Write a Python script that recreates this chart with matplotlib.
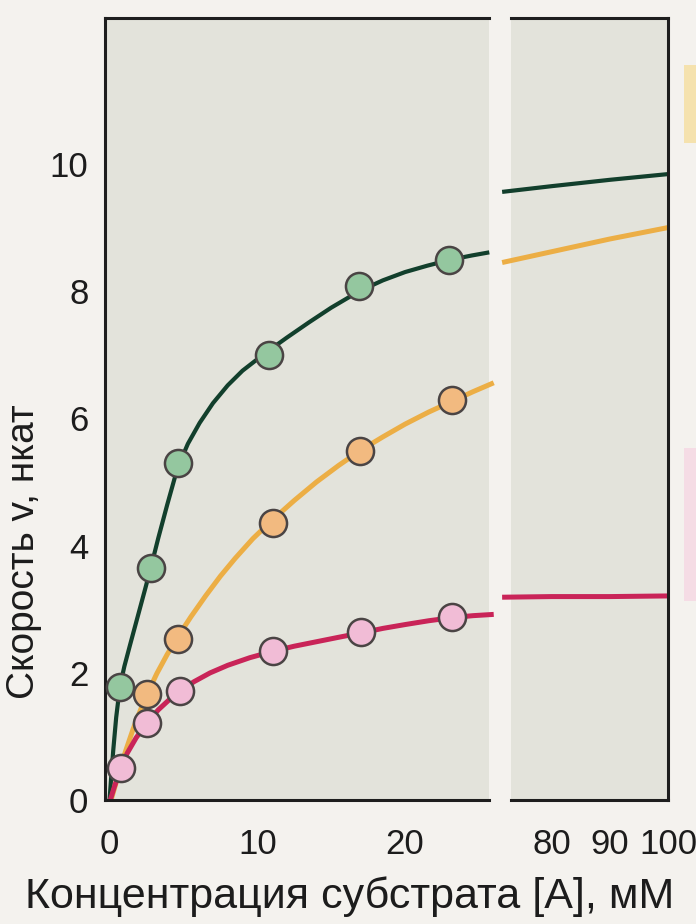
import matplotlib.pyplot as plt
from matplotlib.patches import Rectangle

plt.rcParams['font.family'] = ['Liberation Sans', 'DejaVu Sans']

# измеренные точки (мМ, нкат)
green_x = [0.7, 2.8, 4.6, 10.8, 16.9, 23.0]
green_y = [1.78, 3.65, 5.30, 6.99, 8.08, 8.49]
orange_x = [2.55, 4.6, 11.05, 16.95, 23.15]
orange_y = [1.67, 2.53, 4.36, 5.49, 6.29]
pink_x = [0.75, 2.55, 4.75, 11.05, 17.05, 23.2]
pink_y = [0.50, 1.22, 1.71, 2.34, 2.65, 2.88]

# кривые (левая часть оси)
green_cx = [0, 0.1, 0.25, 0.45, 0.7, 1.0, 1.4, 1.9, 2.4, 2.8, 3.3, 3.9, 4.6, 5.3, 6.1, 7.0, 8.0, 9.0,
            10.0, 10.8, 12, 13.5, 15, 16.9, 18.5, 20, 21.5, 23, 24.5, 25.7]
green_cy = [0, 0.32, 0.78, 1.3, 1.78, 2.1, 2.45, 2.88, 3.31, 3.66, 4.12, 4.64, 5.22, 5.6, 5.93, 6.24, 6.52, 6.75,
            6.93, 7.07, 7.27, 7.51, 7.74, 8.0, 8.17, 8.3, 8.4, 8.49, 8.56, 8.61]
orange_cx = [0.1, 0.6, 1.1, 1.6, 2.1, 2.55, 3.2, 3.9, 4.6, 5.5, 6.5, 7.5, 8.5, 9.7, 11, 12.5, 14, 15.5,
             17, 18.5, 20, 21.6, 23.2, 24.6, 26]
orange_cy = [0, 0.40, 0.78, 1.12, 1.42, 1.67, 1.99, 2.29, 2.56, 2.88, 3.21, 3.52, 3.8, 4.11, 4.40, 4.71, 5.0, 5.26,
             5.5, 5.71, 5.91, 6.1, 6.27, 6.42, 6.56]
pink_cx = [0.05, 0.3, 0.75, 1.2, 1.8, 2.55, 3.3, 4.0, 4.75, 5.7, 6.8, 8, 9.5, 11.05, 12.5, 14, 15.5, 17.05,
           18.5, 20, 21.6, 23.2, 24.6, 26]
pink_cy = [0, 0.19, 0.5, 0.74, 0.98, 1.22, 1.42, 1.57, 1.71, 1.86, 2.0, 2.12, 2.24, 2.34, 2.42, 2.49, 2.56, 2.63,
           2.7, 2.76, 2.82, 2.87, 2.9, 2.92]

# правая часть оси (большие концентрации)
right_cx = [71.5, 80, 90, 100]
green_ry = [9.56, 9.65, 9.75, 9.84]
orange_ry = [8.45, 8.62, 8.82, 9.0]
pink_ry = [3.19, 3.2, 3.2, 3.21]

left_ticks = [0, 10, 20]
right_ticks = [80, 90, 100]
y_ticks = [0, 2, 4, 6, 8, 10]

line_colors = ['#123f2c', '#ecae45', '#c92458']
face_colors = ['#94c79f', '#f2ba80', '#f1bcd6']

fig = plt.figure(figsize=(6.96, 9.24), dpi=100, facecolor='#f4f2ee')
ax1 = fig.add_axes([0.151, 0.134, 0.552, 0.847])
ax2 = fig.add_axes([0.734, 0.134, 0.226, 0.847])

for ax in (ax1, ax2):
    ax.set_facecolor('#e3e3db')
    ax.set_ylim(0, 12.3)
    ax.tick_params(length=0, labelsize=25, colors='#1c1c1c')
    for s in ax.spines.values():
        s.set_linewidth(2.2)
        s.set_color('#1e1e1e')

ax1.set_xlim(-0.3, 25.7)
ax2.set_xlim(73, 100)
ax1.spines['right'].set_visible(False)
ax2.spines['left'].set_visible(False)
ax1.set_xticks(left_ticks)
ax2.set_xticks(right_ticks)
ax1.set_yticks(y_ticks)
ax2.set_yticks([])
ax1.tick_params(axis='x', pad=20)
ax2.tick_params(axis='x', pad=20)
ax1.tick_params(axis='y', pad=12)

curves = [(green_cx, green_cy, green_ry, green_x, green_y),
          (orange_cx, orange_cy, orange_ry, orange_x, orange_y),
          (pink_cx, pink_cy, pink_ry, pink_x, pink_y)]
widths = [3.0, 3.6, 3.6]

for i, (cx, cy, ry, px, py) in enumerate(curves):
    ax1.plot(cx, cy, color=line_colors[i], lw=widths[i], solid_capstyle='butt',
             solid_joinstyle='round', clip_on=False, zorder=2)
    ax2.plot(right_cx, ry, color=line_colors[i], lw=widths[i], solid_capstyle='butt', clip_on=False, zorder=2)

# точки рисуем поверх всех линий
for i, (cx, cy, ry, px, py) in enumerate(curves):
    ax1.plot(px, py, 'o', ms=19.5, mfc=face_colors[i], mec='#4a4444', mew=1.8, clip_on=False, zorder=4)

fig.text(0.035, 0.403, 'Скорость v, нкат', rotation=90, ha='center', va='center', fontsize=28, color='#1c1c1c')
fig.text(0.502, 0.03, 'Концентрация субстрата [A], мМ', ha='center', va='center', fontsize=31, color='#1c1c1c')

# обрезанные подписи справа
fig.patches.append(Rectangle((0.983, 0.845), 0.02, 0.085, transform=fig.transFigure, facecolor='#f5e2ae', edgecolor='none'))
fig.patches.append(Rectangle((0.983, 0.35), 0.02, 0.165, transform=fig.transFigure, facecolor='#f5dce5', edgecolor='none'))

plt.savefig('out.png', dpi=100, facecolor=fig.get_facecolor())
